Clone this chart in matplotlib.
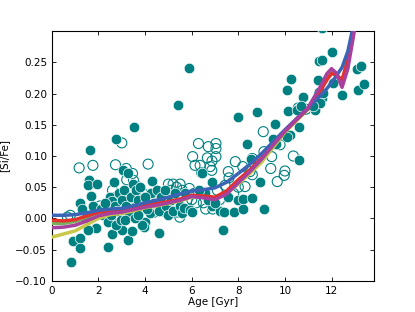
import numpy as np
import matplotlib
matplotlib.use("Agg")
import matplotlib.pyplot as plt

# filled stars (x: age [Gyr], y: [Si/Fe])
filled_x = [0.80, 0.89, 1.21, 1.21, 1.21, 1.64, 1.61, 1.57, 1.69, 1.93, 1.90, 1.57,
            2.77, 3.53, 5.40, 5.90, 2.67, 3.04, 3.27, 2.39, 2.59, 3.26, 3.43, 3.00,
            4.29, 4.59, 4.26, 4.01, 3.96, 3.86, 4.21,
            2.50, 2.60, 2.70, 2.80, 2.90, 3.00, 3.10, 3.20, 3.30, 3.40, 3.50, 3.60,
            3.70, 3.80, 3.90, 4.00, 4.10, 4.40, 4.50, 4.60, 4.70, 4.84, 4.90, 5.00,
            5.10, 5.20, 5.30, 5.50, 5.60, 5.70, 5.69, 5.93, 6.00, 2.20, 2.40, 2.55,
            2.75, 2.95, 3.13, 3.56, 3.70, 1.30, 1.45, 1.75, 2.10, 2.30,
            6.46, 6.86, 6.86, 7.21, 7.33, 6.57, 7.57, 6.30, 6.70, 7.00, 7.40, 7.80,
            8.00, 8.21, 8.57, 8.21,
            8.00, 8.79, 8.39, 8.53, 8.94, 9.10,
            9.57, 9.47, 9.60, 10.21, 10.14, 10.07, 10.24, 10.76, 10.53, 10.60, 10.61, 10.10,
            11.31, 11.46, 11.57, 11.43, 11.60, 11.64, 11.50, 11.21, 10.70, 12.03, 12.07,
            12.43, 13.14, 13.11, 13.26, 13.40, 11.57]
filled_y = [-0.070, -0.036, -0.031, -0.047, 0.025, 0.109, 0.061, 0.054, 0.036, 0.055, -0.016, -0.019,
            0.127, 0.147, 0.181, 0.241, 0.059, 0.077, 0.072, -0.046, -0.025, -0.034, -0.020, -0.019,
            0.060, -0.023, 0.040, -0.005, -0.014, -0.010, 0.008,
            0.035, 0.028, 0.020, 0.012, 0.040, 0.030, 0.045, 0.020, 0.010, 0.035, 0.055, 0.045,
            0.030, 0.050, 0.020, 0.035, 0.015, 0.025, 0.045, 0.012, 0.035, 0.045, 0.020, 0.005,
            0.030, 0.012, 0.040, 0.020, 0.008, 0.040, 0.016, 0.013, 0.010, 0.005, -0.005, 0.005,
            -0.010, -0.002, -0.003, 0.000, 0.005, 0.015, 0.000, 0.020, 0.015, 0.025,
            0.072, 0.059, 0.020, 0.012, -0.019, 0.040, 0.035, 0.045, 0.030, 0.025, 0.010, 0.010,
            0.030, 0.031, 0.032, 0.015,
            0.162, 0.170, 0.119, 0.095, 0.059, 0.015,
            0.152, 0.128, 0.120, 0.134, 0.172, 0.205, 0.224, 0.195, 0.174, 0.093, 0.147, 0.130,
            0.174, 0.253, 0.254, 0.222, 0.193, 0.201, 0.185, 0.180, 0.180, 0.267, 0.217,
            0.197, 0.205, 0.239, 0.245, 0.215, 0.305]

# open stars
open_x = [1.17, 1.76, 2.73, 3.00, 4.13, 3.19, 3.46, 3.50, 3.67, 3.21, 2.07, 0.79, 0.67,
          2.30, 2.50, 2.70, 2.85, 3.00, 3.15, 3.30, 3.50, 3.60, 3.75, 3.90, 4.00, 4.20,
          4.40, 4.60, 4.80, 5.00, 5.10, 5.20, 5.35, 5.50, 5.60, 5.49, 5.40, 5.80, 5.90,
          5.30, 4.90, 2.60, 2.80,
          6.29, 6.04, 6.71, 7.04, 7.04, 6.79, 6.36, 6.67, 6.87, 7.04, 6.43, 6.86, 7.57,
          7.87, 7.60, 7.43, 6.14, 6.10, 6.30, 6.50, 6.60, 6.90, 7.10, 7.20, 6.20, 6.00,
          9.07, 8.60, 9.39, 9.67, 10.00, 9.97, 10.36, 9.10, 9.43, 8.19, 8.29, 8.50, 8.60,
          9.79, 10.57, 11.50, 11.40, 10.90, 8.00, 7.80]
open_y = [0.081, 0.085, 0.086, 0.121, 0.087, 0.080, 0.072, 0.061, 0.051, 0.062, 0.020, 0.005, 0.002,
          0.010, 0.000, 0.025, 0.005, 0.015, 0.035, 0.025, 0.015, 0.035, 0.010, 0.040, 0.025, 0.030,
          0.010, 0.030, 0.025, 0.055, 0.045, 0.055, 0.050, 0.055, 0.045, 0.002, 0.010, 0.030, 0.048,
          0.025, 0.010, 0.045, 0.035,
          0.120, 0.099, 0.115, 0.120, 0.112, 0.083, 0.085, 0.097, 0.092, 0.099, 0.073, 0.077, 0.075,
          0.091, 0.065, 0.053, 0.085, 0.040, 0.040, 0.025, 0.015, 0.015, 0.045, 0.030, 0.025, 0.030,
          0.139, 0.096, 0.080, 0.059, 0.076, 0.069, 0.100, 0.107, 0.099, 0.083, 0.051, 0.075, 0.070,
          0.118, 0.177, 0.201, 0.190, 0.175, 0.050, 0.040]

age = [0.0, 0.5, 1.0, 1.5, 2.0, 2.5, 3.0, 3.5, 4.0, 4.5, 5.0, 5.5, 6.0, 6.5, 7.0, 7.5,
       8.0, 8.5, 9.0, 9.5, 10.0, 10.5, 11.0, 11.5, 11.8, 12.0, 12.2, 12.45, 12.7, 13.0, 13.2]
blue = [0.005, 0.005, 0.006, 0.009, 0.013, 0.015, 0.016, 0.020, 0.025, 0.029, 0.034, 0.039,
        0.044, 0.046, 0.049, 0.058, 0.072, 0.087, 0.104, 0.123, 0.142, 0.160, 0.177, 0.196,
        0.208, 0.218, 0.228, 0.242, 0.268, 0.320, 0.360]
red = [-0.003, -0.004, -0.002, 0.004, 0.010, 0.012, 0.012, 0.016, 0.021, 0.024, 0.027, 0.031,
       0.037, 0.036, 0.034, 0.044, 0.062, 0.078, 0.097, 0.119, 0.140, 0.158, 0.176, 0.203,
       0.222, 0.232, 0.230, 0.222, 0.255, 0.315, 0.360]
green = [-0.008, -0.008, -0.005, 0.002, 0.009, 0.011, 0.011, 0.015, 0.019, 0.022, 0.026, 0.030,
         0.036, 0.035, 0.033, 0.042, 0.060, 0.076, 0.095, 0.117, 0.139, 0.158, 0.176, 0.205,
         0.228, 0.238, 0.232, 0.215, 0.248, 0.310, 0.360]
yellow = [-0.030, -0.025, -0.020, -0.010, 0.000, 0.006, 0.008, 0.012, 0.017, 0.020, 0.024, 0.028,
          0.034, 0.034, 0.032, 0.040, 0.055, 0.072, 0.090, 0.114, 0.138, 0.157, 0.176, 0.204,
          0.226, 0.235, 0.232, 0.220, 0.252, 0.312, 0.360]
purple = [-0.015, -0.014, -0.011, -0.004, 0.004, 0.008, 0.010, 0.014, 0.018, 0.021, 0.025, 0.029,
          0.035, 0.033, 0.030, 0.039, 0.057, 0.075, 0.095, 0.118, 0.140, 0.159, 0.178, 0.210,
          0.232, 0.240, 0.233, 0.210, 0.240, 0.305, 0.360]

teal = "#008080"

fig = plt.figure(figsize=(4.15, 3.12), dpi=100)
ax = fig.add_axes([0.125, 0.1, 0.775, 0.8])

ax.scatter(open_x, open_y, s=52, facecolors="none", edgecolors=teal, linewidths=0.8, zorder=2)
ax.scatter(filled_x, filled_y, s=58, facecolors=teal, edgecolors="white", linewidths=0.5, zorder=3)

lw = 2.5
ax.plot(age, yellow, color="#c8c84a", lw=lw, zorder=4)
ax.plot(age, green, color="#78b060", lw=lw, zorder=5)
ax.plot(age, red, color="#e5312b", lw=lw, zorder=6)
ax.plot(age, blue, color="#3b64b5", lw=lw, zorder=7)
ax.plot(age, purple, color="#a8409e", lw=lw, zorder=8)

ax.set_xlim(0, 13.8)
ax.set_ylim(-0.10, 0.30)
ax.set_xticks([0, 2, 4, 6, 8, 10, 12])
ax.set_yticks([-0.10, -0.05, 0.00, 0.05, 0.10, 0.15, 0.20, 0.25])
ax.set_yticklabels(["\u22120.10", "\u22120.05", "0.00", "0.05", "0.10", "0.15", "0.20", "0.25"])
ax.tick_params(direction="in", top=True, right=True, labelsize=7.5, length=3, width=0.6)
for sp in ax.spines.values():
    sp.set_linewidth(0.8)

ax.set_xlabel("Age [Gyr]", fontsize=7.5, labelpad=1)
ax.set_ylabel("[Si/Fe]", fontsize=7.5, labelpad=4)

fig.savefig("out.png", dpi=100)
